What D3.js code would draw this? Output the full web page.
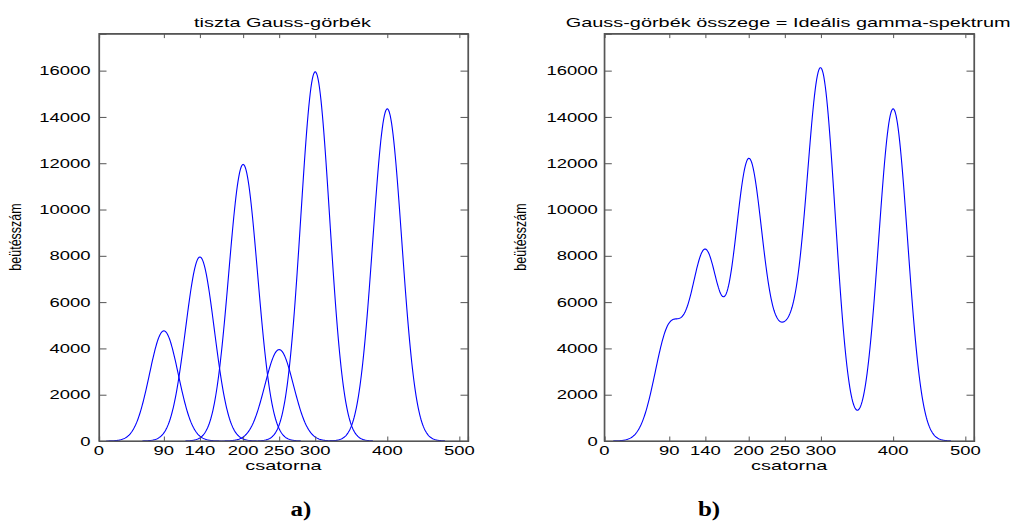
<!DOCTYPE html>
<html>
<head>
<meta charset="utf-8">
<script src="https://cdn.jsdelivr.net/npm/d3@7"></script>
<style>
  body { margin: 0; background: #fff; }
  svg { display: block; }
</style>
</head>
<body>
<svg id="chart" width="1015" height="522"></svg>
<script>
// Peak parameters of the individual Gaussian lines
const peakChannels = [90, 140, 200, 250, 300, 400];
const peakCounts   = [4760, 7950, 11950, 3950, 15950, 14350];
const peakSigmas   = [20, 20, 20, 20, 20, 20];
const peakHalfSpan = 80;          // channels evaluated on each side of a peak

// Axis settings
const xDomain = [0, 512];
const yDomain = [0, 17600];
const xTickValues = [0, 90, 140, 200, 250, 300, 400, 500];
const yTickValues = [0, 2000, 4000, 6000, 8000, 10000, 12000, 14000, 16000];

// Texts
const panelTitles = ["tiszta Gauss-görbék", "Gauss-görbék összege = Ideális gamma-spektrum"];
const xAxisLabel = "csatorna";
const yAxisLabel = "beütésszám";
const panelTags = ["a)", "b)"];

// ---------------------------------------------------------------
const svg = d3.select("#chart");
const LINE = "#0000ff";
const AXIS = "#555";
const SANS = "'Liberation Sans', Arial, sans-serif";
const SERIF = "'Liberation Serif', 'Times New Roman', serif";

function gaussPoints(i) {
  const c = peakChannels[i], a = peakCounts[i], s = peakSigmas[i];
  return d3.range(c - peakHalfSpan, c + peakHalfSpan + 1).map(ch => ({
    ch, v: a * Math.exp(-((ch - c) ** 2) / (2 * s * s))
  }));
}

function sumPoints() {
  const lo = d3.min(peakChannels, c => c - peakHalfSpan) + 2;
  const hi = d3.max(peakChannels, c => c + peakHalfSpan);
  return d3.range(lo, hi + 1).map(ch => ({
    ch,
    v: d3.sum(peakChannels, (c, i) =>
      peakCounts[i] * Math.exp(-((ch - c) ** 2) / (2 * peakSigmas[i] ** 2)))
  }));
}

// horizontally widened text
function wideText(g, x, y, str, opt) {
  return g.append("text")
    .attr("transform", `translate(${x},${y}) scale(${opt.sx || 1},1)`)
    .attr("text-anchor", opt.anchor || "middle")
    .attr("font-family", opt.family || SANS)
    .attr("font-size", opt.size || 13)
    .attr("font-weight", opt.weight || "normal")
    .attr("fill", "#000")
    .text(str);
}

const panels = [
  { left: 99,    right: 468, top: 33.6, bottom: 441, labelGap: 8.5, tagX: 301, series: "parts" },
  { left: 604.3, right: 974, top: 33.6, bottom: 441, labelGap: 6.5, tagX: 709, series: "sum" }
];

panels.forEach((p, k) => {
  const g = svg.append("g");
  const x = d3.scaleLinear().domain(xDomain).range([p.left, p.right]);
  const y = d3.scaleLinear().domain(yDomain).range([p.bottom, p.top]);

  // curves
  const line = d3.line().x(d => x(d.ch)).y(d => y(d.v));
  const curves = p.series === "parts"
    ? peakChannels.map((_, i) => gaussPoints(i))
    : [sumPoints()];
  g.selectAll("path.curve").data(curves).join("path")
    .attr("class", "curve")
    .attr("d", line)
    .attr("fill", "none")
    .attr("stroke", LINE)
    .attr("stroke-width", 1.1)
    .attr("stroke-linejoin", "round");

  // axes: inward ticks on all four sides, labels on bottom and left
  const bottomAx = d3.axisBottom(x).tickValues(xTickValues).tickSize(-4.5).tickFormat("");
  const topAx = d3.axisTop(x).tickValues(xTickValues).tickSize(-4.5).tickFormat("");
  const leftAx = d3.axisLeft(y).tickValues(yTickValues).tickSize(-7.5).tickFormat("");
  const rightAx = d3.axisRight(y).tickValues(yTickValues).tickSize(-7.5).tickFormat("");

  const axes = [
    g.append("g").attr("transform", `translate(0,${p.bottom})`).call(bottomAx),
    g.append("g").attr("transform", `translate(0,${p.top})`).call(topAx),
    g.append("g").attr("transform", `translate(${p.left},0)`).call(leftAx),
    g.append("g").attr("transform", `translate(${p.right},0)`).call(rightAx)
  ];
  axes.forEach(a => {
    a.selectAll(".domain").attr("stroke", AXIS).attr("stroke-width", 1.2);
    a.selectAll(".tick line").attr("stroke", AXIS).attr("stroke-width", 1);
  });
  // box outline
  g.append("rect")
    .attr("x", p.left).attr("y", p.top)
    .attr("width", p.right - p.left).attr("height", p.bottom - p.top)
    .attr("fill", "none").attr("stroke", AXIS).attr("stroke-width", 1.2);

  // tick labels
  xTickValues.forEach(v => wideText(g, x(v), 455, String(v), { sx: 1.42 }));
  yTickValues.forEach(v => wideText(g, p.left - p.labelGap, y(v) + 4.6, String(v), { sx: 1.42, anchor: "end" }));

  // axis titles
  wideText(g, (p.left + p.right) / 2, 470, xAxisLabel, { sx: 1.53 });
  g.append("text")
    .attr("transform", `translate(${p.left - 78},237) rotate(-90) scale(1,1.3)`)
    .attr("text-anchor", "middle")
    .attr("font-family", SANS)
    .attr("font-size", 12.5)
    .attr("fill", "#000")
    .text(yAxisLabel);

  // panel title
  wideText(g, (p.left + p.right) / 2 - 1, 26.5, panelTitles[k], { sx: 1.53 });

  // panel tag
  wideText(g, p.tagX, 516, panelTags[k], { sx: 1.25, size: 20, weight: "bold", family: SERIF });
});
</script>
</body>
</html>
